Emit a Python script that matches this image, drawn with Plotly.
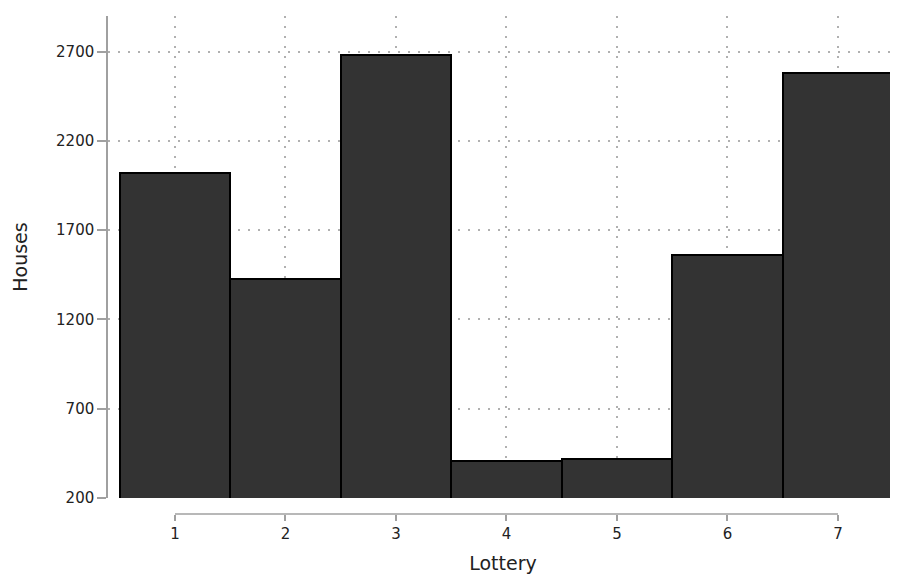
import plotly.graph_objects as go

lottery = [1, 2, 3, 4, 5, 6, 7]
houses = [2019, 1425, 2683, 409, 418, 1562, 2580]
y_ticks = [200, 700, 1200, 1700, 2200, 2700]

fig = go.Figure()
fig.add_trace(go.Bar(
    x=lottery, y=houses, width=1,
    marker=dict(color="#333333", line=dict(color="#000000", width=2)),
    showlegend=False,
))

# Stata-style x-axis line spanning only the tick range
fig.add_shape(type="line", xref="x", yref="paper", x0=lottery[0], x1=lottery[-1],
              y0=0, y1=0, line=dict(color="#a0a0a0", width=1.5))

font_family = "DejaVu Sans"
# page body adds an 8px offset, so the figure is 8px smaller on each axis
fig.update_layout(
    width=890, height=567,
    margin=dict(l=100, r=0, t=8, b=61, autoexpand=False),
    plot_bgcolor="white", paper_bgcolor="white",
    bargap=0,
    font=dict(family=font_family, size=15, color="#222222"),
    xaxis=dict(
        range=[0.394, 7.543],
        anchor="free", position=0, automargin=False,
        tickvals=lottery, ticks="outside", ticklen=6, tickwidth=1.5, tickcolor="#a0a0a0",
        showline=False, zeroline=False,
        showgrid=True, gridcolor="#b0b0b0", gridwidth=1.5, griddash="1.5px,8.5px",
        title=dict(text="Lottery", font=dict(size=19), standoff=14),
    ),
    yaxis=dict(
        domain=[0.0321, 1], automargin=False,
        range=[200, 2900],
        tickvals=y_ticks, ticks="outside", ticklen=9, tickwidth=1.5, tickcolor="#a0a0a0",
        showline=True, linecolor="#a0a0a0", linewidth=1.5,
        zeroline=False,
        showgrid=True, gridcolor="#b0b0b0", gridwidth=1.5, griddash="1.5px,8.5px",
        title=dict(text="Houses", font=dict(size=19), standoff=23),
    ),
)

fig.write_html("out.html")
